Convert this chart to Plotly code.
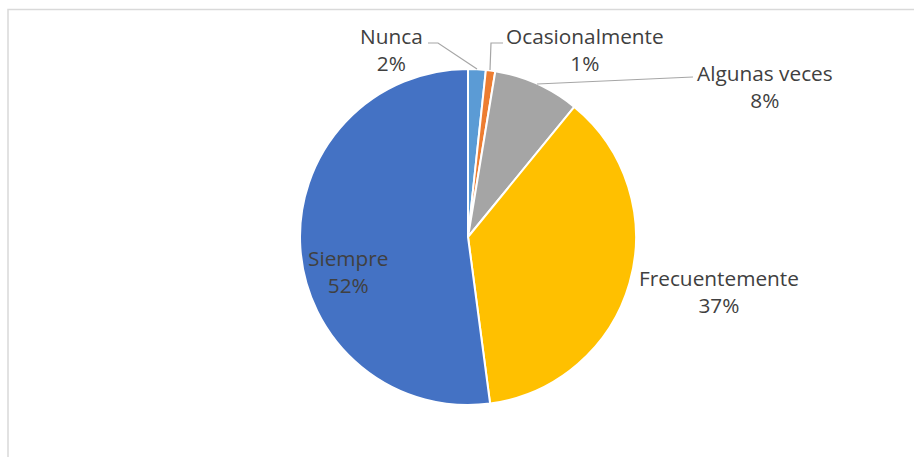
import plotly.graph_objects as go

labels = ["Nunca", "Ocasionalmente", "Algunas veces", "Frecuentemente", "Siempre"]
values = [1.7, 0.9, 8.3, 37.0, 52.1]
colors = ["#5B9BD5", "#ED7D31", "#A5A5A5", "#FFC000", "#4472C4"]

W, H = 914, 457
CX, CY, R = 468, 237, 168

def px(x):
    return x / W

def py(y):
    return 1 - y / H

total = sum(values)
pcts = [round(v / total * 100) for v in values]
texts = [f"{l}<br>{p}%" for l, p in zip(labels, pcts)]

fig = go.Figure()
fig.add_trace(go.Pie(
    labels=labels, values=values, sort=False, direction="clockwise", rotation=0,
    marker=dict(colors=colors, line=dict(color="white", width=2)),
    textinfo="none", hoverinfo="label+percent", showlegend=False,
    domain=dict(x=[px(CX - R), px(CX + R)], y=[py(CY + R), py(CY - R)]),
))

FONT = dict(family="Open Sans, Calibri, sans-serif", size=20.8, color="#404040")
label_pos = [(391, 49), (585, 49), (765, 86), (719, 291), (348, 271)]
for t, (x, y) in zip(texts, label_pos):
    fig.add_annotation(x=px(x), y=py(y), xref="paper", yref="paper", text=t,
                       showarrow=False, font=FONT, xanchor="center", yanchor="middle", align="center")

leaders = [
    [(428, 43), (438, 43), (477, 69)],
    [(503, 43), (491, 43), (490, 70)],
    [(537, 84), (693, 77)],
]
shapes = []
for pts in leaders:
    path = "M " + " L ".join(f"{px(x)},{py(y)}" for x, y in pts)
    shapes.append(dict(type="path", path=path, xref="paper", yref="paper",
                       line=dict(color="#A6A6A6", width=1.2)))
shapes.append(dict(type="rect", xref="paper", yref="paper",
                   x0=px(8), x1=1.02, y0=-0.02, y1=py(9.5),
                   line=dict(color="#D9D9D9", width=1.5), fillcolor="rgba(0,0,0,0)"))

fig.update_layout(width=W, height=H, margin=dict(l=0, r=0, t=0, b=0),
                  paper_bgcolor="white", plot_bgcolor="white", shapes=shapes)
fig.write_html("out.html", config={"displayModeBar": False},
               post_script="document.body.style.margin='0';")
